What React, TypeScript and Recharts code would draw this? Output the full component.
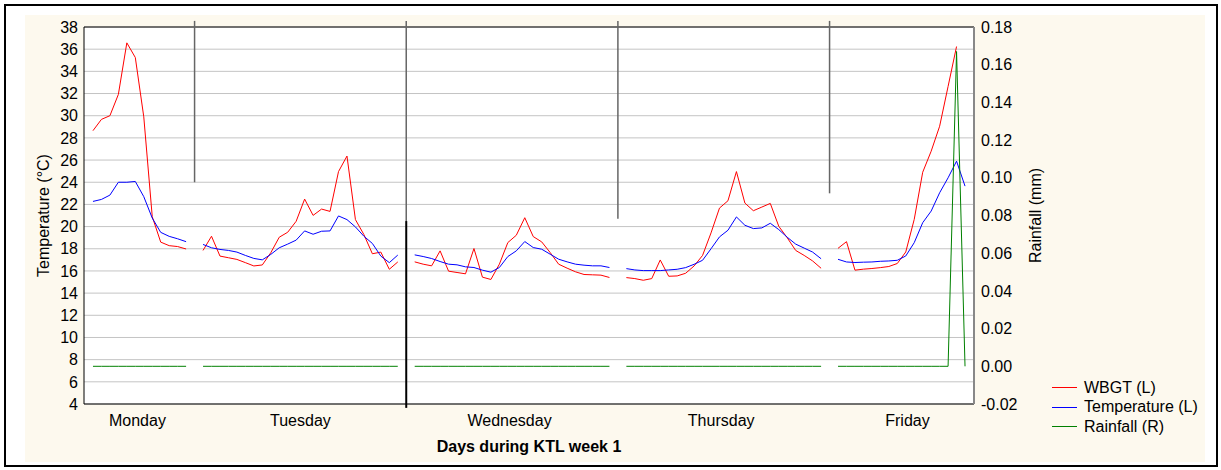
import { CartesianGrid, Legend, Line, LineChart, ReferenceLine, XAxis, YAxis } from "recharts";

const days = ["Monday", "Tuesday", "Wednesday", "Thursday", "Friday"];
const dayTicks = [5.25, 24.5, 49.2, 74.2, 96.2];

const wbgtByDay = [
  [28.65, 29.67, 30.0, 31.92, 36.57, 35.25, 29.9, 20.9, 18.6, 18.28, 18.2, 17.98],
  [17.85, 19.13, 17.34, 17.19, 17.04, 16.75, 16.45, 16.54, 17.64, 19.04, 19.49, 20.48,
   22.48, 21.01, 21.58, 21.37, 24.96, 26.36, 20.63, 19.28, 17.55, 17.7, 16.15, 16.81],
  [16.82, 16.61, 16.46, 17.81, 15.98, 15.86, 15.74, 18.02, 15.44, 15.23, 16.61, 18.56,
   19.22, 20.8, 19.1, 18.62, 17.66, 16.61, 16.25, 15.92, 15.68, 15.65, 15.62, 15.41],
  [15.4, 15.31, 15.16, 15.31, 16.99, 15.52, 15.55, 15.79, 16.45, 17.4, 19.43, 21.67,
   22.33, 24.96, 22.12, 21.43, 21.76, 22.09, 20.03, 18.99, 17.85, 17.4, 16.9, 16.24],
  [18.04, 18.64, 16.07, 16.16, 16.22, 16.3, 16.4, 16.67, 17.71, 20.65, 24.9, 26.8,
   29.05, 32.64, 36.24],
];

const tempByDay = [
  [22.27, 22.45, 22.84, 24.0, 24.0, 24.07, 22.7, 20.77, 19.48, 19.12, 18.9, 18.64],
  [18.39, 18.09, 17.94, 17.85, 17.7, 17.4, 17.13, 17.0, 17.49, 18.09, 18.42, 18.78,
   19.61, 19.31, 19.58, 19.61, 20.96, 20.63, 19.97, 19.13, 18.48, 17.34, 16.75, 17.43],
  [17.45, 17.3, 17.12, 16.85, 16.61, 16.55, 16.37, 16.31, 16.07, 15.89, 16.31, 17.3,
   17.81, 18.65, 18.11, 17.96, 17.51, 17.06, 16.82, 16.61, 16.52, 16.46, 16.46, 16.31],
  [16.21, 16.09, 16.03, 16.03, 16.03, 16.09, 16.15, 16.3, 16.6, 16.96, 18.0, 19.07,
   19.67, 20.87, 20.12, 19.82, 19.88, 20.3, 19.73, 19.04, 18.42, 18.06, 17.7, 17.1],
  [17.05, 16.81, 16.76, 16.79, 16.81, 16.87, 16.9, 16.96, 17.35, 18.55, 20.35, 21.4,
   23.05, 24.4, 25.9, 23.65],
];

const rainByDay = [
  [0, 0, 0, 0, 0, 0, 0, 0, 0, 0, 0, 0],
  [0, 0, 0, 0, 0, 0, 0, 0, 0, 0, 0, 0, 0, 0, 0, 0, 0, 0, 0, 0, 0, 0, 0, 0],
  [0, 0, 0, 0, 0, 0, 0, 0, 0, 0, 0, 0, 0, 0, 0, 0, 0, 0, 0, 0, 0, 0, 0, 0],
  [0, 0, 0, 0, 0, 0, 0, 0, 0, 0, 0, 0, 0, 0, 0, 0, 0, 0, 0, 0, 0, 0, 0, 0],
  [0, 0, 0, 0, 0, 0, 0, 0, 0, 0, 0, 0, 0, 0, 0.167, 0],
];

// where the day divider lines stop (left axis units)
const dividerEnds = [24, 20.5, 20.7, 23];

const tempTicks = [4, 6, 8, 10, 12, 14, 16, 18, 20, 22, 24, 26, 28, 30, 32, 34, 36, 38];
const rainTicks = [-0.02, 0, 0.02, 0.04, 0.06, 0.08, 0.1, 0.12, 0.14, 0.16, 0.18];

const series = [
  { key: "wbgt", name: "WBGT (L)", color: "#ff0000", axis: "left" },
  { key: "temp", name: "Temperature (L)", color: "#0000ff", axis: "left" },
  { key: "rain", name: "Rainfall (R)", color: "#008000", axis: "right" },
];

type Row = { x: number; wbgt: number | null; temp: number | null; rain: number | null };

const rows: Row[] = [];
const gaps: number[] = [];
let idx = 0;
days.forEach((_, d) => {
  tempByDay[d].forEach((t, j) => {
    rows.push({ x: idx++, wbgt: wbgtByDay[d][j] ?? null, temp: t, rain: rainByDay[d][j] ?? null });
  });
  if (d < days.length - 1) {
    gaps.push(idx);
    rows.push({ x: idx++, wbgt: null, temp: null, rain: null });
  }
});

const font = "'Liberation Sans', Arial, sans-serif";

const LegendBox = () => (
  <div style={{ fontFamily: font, fontSize: 16, color: "#000" }}>
    {series.map((s) => (
      <div key={s.key} style={{ display: "flex", alignItems: "center", height: 19.5 }}>
        <span style={{ display: "block", width: 25, height: 0, borderTop: `1px solid ${s.color}`, marginRight: 7 }} />
        <span>{s.name}</span>
      </div>
    ))}
  </div>
);

export default function App() {
  return (
    <div style={{ position: "absolute", left: 0, top: 0, width: 1221, height: 470, background: "#fff", fontFamily: font }}>
      <div style={{ position: "absolute", left: 4, top: 4, width: 1214, height: 463, border: "2px solid #000", boxSizing: "border-box" }} />
      <div style={{ position: "absolute", left: 25, top: 15, width: 1180, height: 447, background: "#fdf9ee" }} />
      <div style={{ position: "absolute", left: 0, top: 0 }}>
        <LineChart width={1221} height={470} data={rows} margin={{ top: 27, right: 125, bottom: 16, left: 2 }}>
          <CartesianGrid yAxisId="left" vertical={false} stroke="#c4c4c4" fill="#fff" fillOpacity={1} />
          <XAxis
            dataKey="x"
            type="number"
            domain={[-1.06, 104.06]}
            ticks={dayTicks}
            interval={0}
            tickFormatter={(_v: number, i: number) => days[i]}
            tickLine={false}
            tickSize={6}
            tickMargin={5}
            height={50}
            axisLine={{ stroke: "#000" }}
            tick={{ fill: "#000", fontSize: 16 }}
            label={{ value: "Days during KTL week 1", position: "insideBottom", offset: 2, fill: "#000", fontSize: 16, fontWeight: "bold" }}
          />
          <YAxis
            yAxisId="left"
            domain={[4, 38]}
            ticks={tempTicks}
            interval={0}
            width={82}
            tickLine={false}
            tickSize={3}
            tickMargin={3}
            axisLine={{ stroke: "#000" }}
            tick={{ fill: "#000", fontSize: 16 }}
            label={{ value: "Temperature (°C)", angle: -90, position: "center", fill: "#000", fontSize: 16 }}
          />
          <YAxis
            yAxisId="right"
            orientation="right"
            domain={[-0.02, 0.18]}
            ticks={rainTicks}
            interval={0}
            width={122}
            tickLine={false}
            tickSize={3}
            tickMargin={4}
            tickFormatter={(v: number) => v.toFixed(2)}
            axisLine={{ stroke: "#888", strokeWidth: 2 }}
            tick={{ fill: "#000", fontSize: 16 }}
            label={{ value: "Rainfall (mm)", angle: -90, position: "center", fill: "#000", fontSize: 16 }}
          />
          <ReferenceLine yAxisId="left" y={38} stroke="#000" />
          {gaps.map((g, i) => (
            <ReferenceLine
              key={g}
              yAxisId="left"
              ifOverflow="visible"
              segment={[{ x: g, y: 38.55 }, { x: g, y: dividerEnds[i] }]}
              stroke="#666"
              strokeWidth={1.5}
            />
          ))}
          <ReferenceLine
            yAxisId="left"
            ifOverflow="visible"
            segment={[{ x: gaps[1], y: dividerEnds[1] }, { x: gaps[1], y: 3.65 }]}
            stroke="#000"
            strokeWidth={2}
          />
          {series.map((s) => (
            <Line
              key={s.key}
              yAxisId={s.axis}
              type="linear"
              dataKey={s.key}
              name={s.name}
              stroke={s.color}
              strokeWidth={1}
              dot={false}
              activeDot={false}
              connectNulls={false}
              isAnimationActive={false}
            />
          ))}
          <Legend
            layout="horizontal"
            verticalAlign="middle"
            align="center"
            wrapperStyle={{ left: 1052, top: 378, width: 170, height: 60 }}
            content={() => <LegendBox />}
          />
        </LineChart>
      </div>
    </div>
  );
}
